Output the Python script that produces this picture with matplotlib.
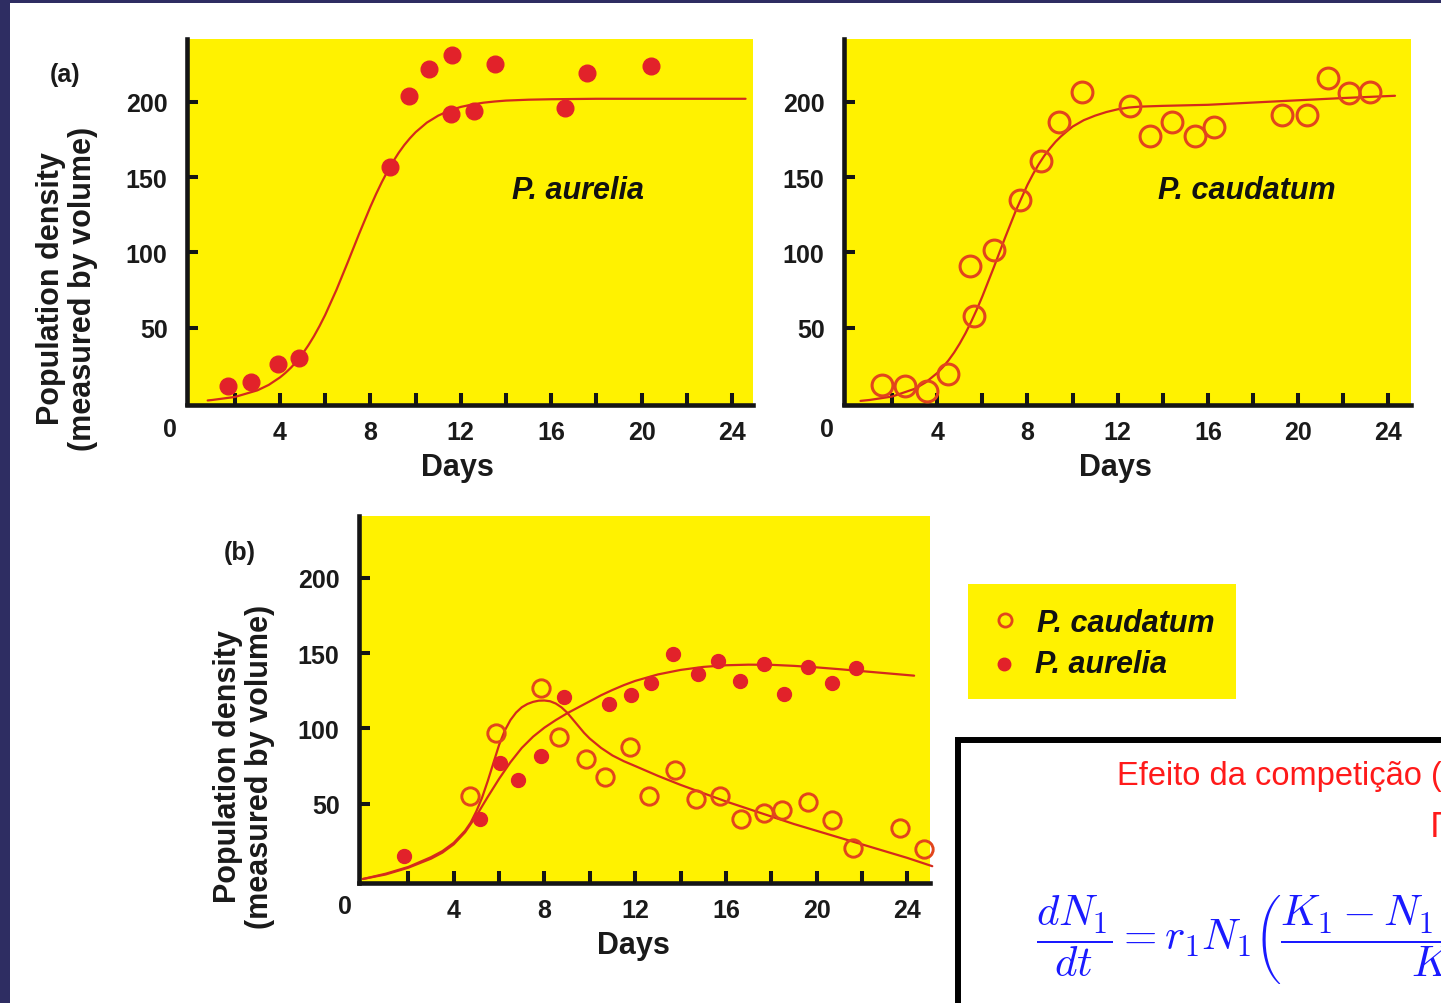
import matplotlib
matplotlib.use("Agg")
import matplotlib.pyplot as plt
from matplotlib.patches import Rectangle

W, H, DPI = 1441, 1004, 100

# ---------------- data ----------------
# (a) P. aurelia grown alone
a_aur_days = [1.7, 2.7, 3.9, 4.85, 8.85, 9.7, 10.6, 11.6, 11.55, 12.6, 13.5, 16.6, 17.6, 20.4]
a_aur_vals = [11, 14, 26, 30, 157, 204, 222, 231, 192, 194, 225, 196, 219, 224]
a_aur_fit_days = [0.8, 1, 2, 3, 3.5, 4, 4.25, 4.5, 4.75, 5, 5.25, 5.5, 5.75, 6, 6.5, 7, 7.5, 8, 8.25,
                  8.5, 8.75, 9, 9.25, 9.5, 9.75, 10, 10.5, 11, 11.5, 12, 12.5, 13, 13.5, 14, 15, 16,
                  18, 24.6]
a_aur_fit_vals = [1.7, 2, 4, 8.4, 12, 17, 20.1, 23.7, 27.9, 32.7, 38.2, 44.3, 51.1, 58.5, 75.2, 93.5,
                  112.3, 130.3, 138.7, 146.5, 153.7, 160.2, 166.1, 171.3, 175.8, 179.8, 186.2,
                  190.8, 194.2, 196.6, 198.2, 199.4, 200.2, 200.8, 201.4, 201.7, 202, 202]

# (a) P. caudatum grown alone
a_cau_days = [1.57, 2.57, 3.55, 4.5, 5.47, 5.63, 6.53, 7.65, 8.6, 9.41, 10.43, 12.56, 13.42, 14.39,
              15.45, 16.27, 19.3, 20.41, 21.31, 22.26, 23.19]
a_cau_vals = [12, 11, 8, 19.5, 91, 58, 101.5, 134.5, 161, 186.5, 206.5, 197, 177, 186.5,
              177, 183, 191, 191, 216, 206, 206.5]
a_cau_fit_days = [0.6, 1, 2, 3, 3.5, 4, 4.25, 4.5, 4.75, 5, 5.25, 5.5, 5.75, 6, 6.5, 7, 7.5, 8, 8.25,
                  8.5, 8.75, 9, 9.25, 9.5, 9.75, 10, 10.5, 11, 11.5, 12, 12.5, 13, 14, 16, 18, 20,
                  22, 24.3]
a_cau_fit_vals = [1.4, 2, 4.3, 9.4, 13.8, 19.9, 23.8, 28.3, 33.5, 39.5, 46.2, 53.7, 61.9, 70.7, 89.7,
                  109.4, 128.2, 144.8, 152, 158.5, 164.2, 169.1, 173.5, 177.2, 180.4, 183.5, 187.8,
                  190.8, 193.2, 195, 196.2, 196.8, 197.3, 198, 199.5, 201, 202.5, 204]

# (b) grown together
b_cau_days = [4.72, 5.87, 7.86, 8.66, 9.82, 10.67, 11.78, 12.62, 13.74, 14.68, 15.73, 16.67, 17.68,
              18.48, 19.61, 20.7, 21.62, 23.68, 24.74]
b_cau_vals = [55, 97, 127, 94.5, 79.5, 68, 87.7, 55, 72.4, 53, 55, 39.7, 43.5, 45.7, 51, 39, 20.3,
              33.6, 19.8]
b_cau_fit_days = [0, 1, 2, 3, 3.5, 4, 4.5, 4.75, 5, 5.25, 5.5, 5.75, 6, 6.25, 6.5, 6.75, 7, 7.25, 7.5,
                  7.75, 8, 8.25, 8.5, 8.75, 9, 9.25, 9.5, 9.75, 10, 10.5, 11, 11.5, 12, 13, 14, 15,
                  16, 17, 18, 19, 20, 21, 22, 23, 24, 25.1]
b_cau_fit_vals = [0, 3.5, 8, 14.5, 18.5, 24, 32, 37.5, 45, 54, 65, 77, 89, 98.5, 105.5, 110.5, 114,
                  116.2, 117.6, 118.4, 118.5, 118, 116.5, 114, 110.5, 106, 101.5, 97, 93.2, 87, 82,
                  78.2, 75, 68.5, 62.5, 57, 51.5, 46.5, 41.5, 36.5, 32, 27.5, 23, 18.5, 14, 8.5]

b_aur_days = [1.8, 5.17, 6.05, 6.84, 7.87, 8.87, 10.86, 11.83, 12.68, 13.68, 14.76, 15.67, 16.62,
              17.66, 18.57, 19.6, 20.68, 21.74]
b_aur_vals = [15, 39.7, 77, 66, 81.4, 120.7, 116, 122, 129.8, 149.5, 136, 145, 131.6, 142.6, 122.6,
              140.7, 130.4, 139.8]
b_aur_fit_days = [0, 1, 2, 3, 3.5, 4, 4.5, 5, 5.5, 6, 6.5, 7, 7.5, 8, 8.5, 9, 9.5, 10, 10.5, 11,
                  11.5, 12, 13, 14, 15, 16, 17, 18, 19, 20, 21, 22, 23, 24.3]
b_aur_fit_vals = [0, 3, 7.5, 13.5, 17.5, 23, 31, 42, 54.5, 66.5, 77.5, 87, 94.5, 100.5, 105.5, 110,
                  114, 118, 122, 125.5, 128.7, 131.5, 135.8, 138.8, 140.8, 141.9, 142.3, 142.2,
                  141.5, 140.5, 139.3, 138, 136.7, 135]

x_ticks = [2, 4, 6, 8, 10, 12, 14, 16, 18, 20, 22, 24]
x_tick_labels = ["", "4", "", "8", "", "12", "", "16", "", "20", "", "24"]
y_ticks = [50, 100, 150, 200]
y_tick_labels = ["50", "100", "150", "200"]

# ---------------- style ----------------
YELLOW = "#fff200"
DOT = "#e2222a"
RING = "#e2451c"
LINE = "#d42a1c"
NAVY = "#2e2d62"

plt.rcParams["font.family"] = ["Liberation Sans", "DejaVu Sans"]
plt.rcParams["font.weight"] = "bold"
plt.rcParams["mathtext.fontset"] = "cm"

fig = plt.figure(figsize=(W / DPI, H / DPI), dpi=DPI, facecolor="white")


def fx(px):
    return px / W


def fy(py):
    return 1 - py / H


def make_axes(left, right, top, bottom, xlim, ylim):
    ax = fig.add_axes([fx(left), fy(bottom), (right - left) / W, (bottom - top) / H])
    ax.set_facecolor(YELLOW)
    ax.set_xlim(*xlim)
    ax.set_ylim(*ylim)
    for s in ("top", "right"):
        ax.spines[s].set_visible(False)
    for s in ("left", "bottom"):
        ax.spines[s].set_linewidth(3.3)
        ax.spines[s].set_color("#151515")
        ax.spines[s].set_capstyle("projecting")
    ax.set_xticks(x_ticks)
    ax.set_xticklabels(x_tick_labels)
    ax.set_yticks(y_ticks)
    ax.set_yticklabels(y_tick_labels)
    ax.tick_params(axis="x", direction="in", length=8.5, width=2.9, color="#151515",
                   pad=11, labelsize=18)
    ax.tick_params(axis="y", direction="in", length=8, width=2.9, color="#151515",
                   pad=14, labelsize=18)
    for lab in ax.get_xticklabels() + ax.get_yticklabels():
        lab.set_fontweight("bold")
        lab.set_color("#1a1a1a")
    return ax


def draw_fit(ax, fd, fv):
    ax.plot(fd, fv, color=LINE, lw=1.6, zorder=3, clip_on=False,
            solid_capstyle="round", solid_joinstyle="round")


# panel (a) left
ax1 = make_axes(187, 753, 40, 405.5, (-0.115, 24.93), (-1.0, 241.7))
draw_fit(ax1, a_aur_fit_days, a_aur_fit_vals)
ax1.plot(a_aur_days, a_aur_vals, "o", ms=12, color=DOT, zorder=4, clip_on=False)
ax1.text(0.69, 0.588, "P. aurelia", transform=ax1.transAxes, ha="center", va="center",
         fontsize=22, fontstyle="italic", fontweight="bold", color="#111111")

# panel (a) right
ax2 = make_axes(844, 1411, 40, 405.5, (-0.133, 25.01), (-1.0, 241.7))
draw_fit(ax2, a_cau_fit_days, a_cau_fit_vals)
ax2.plot(a_cau_days, a_cau_vals, "o", ms=15, mfc="none", mec=RING, mew=2.2, zorder=4, clip_on=False)
ax2.text(0.710, 0.588, "P. caudatum", transform=ax2.transAxes, ha="center", va="center",
         fontsize=22, fontstyle="italic", fontweight="bold", color="#111111")

# panel (b)
ax3 = make_axes(359, 930, 517, 884, (-0.176, 25.0), (-2.66, 241.0))
draw_fit(ax3, b_cau_fit_days, b_cau_fit_vals)
draw_fit(ax3, b_aur_fit_days, b_aur_fit_vals)
ax3.plot(b_cau_days, b_cau_vals, "o", ms=12.5, mfc="none", mec=RING, mew=2.1, zorder=4, clip_on=False)
ax3.plot(b_aur_days, b_aur_vals, "o", ms=10, color=DOT, zorder=4, clip_on=False)

# corner zero labels, axis titles
txt = dict(fontweight="bold", color="#1a1a1a", ha="center", va="center")
for (x, y) in [(170, 430), (827, 430), (345, 907)]:
    fig.text(fx(x), fy(y), "0", fontsize=18, **txt)
for (x, y) in [(457, 468), (1115, 468), (633, 946)]:
    fig.text(fx(x), fy(y), "Days", fontsize=22, **txt)
for (x, y) in [(67, 289), (244, 767)]:
    fig.text(fx(x), fy(y), "Population density\n(measured by volume)", fontsize=22,
             rotation=90, linespacing=1.05, **txt)
fig.text(fx(65), fy(75), "(a)", fontsize=18, **txt)
fig.text(fx(240), fy(553), "(b)", fontsize=18, **txt)

# overlay axes in pixel coordinates for legend and formula box
ov = fig.add_axes([0, 0, 1, 1], facecolor="none")
ov.set_xlim(0, W)
ov.set_ylim(H, 0)
ov.axis("off")

# legend box
ov.add_patch(Rectangle((968, 585), 1236 - 968, 700 - 585, facecolor=YELLOW, edgecolor="none", zorder=1))
ov.plot([1005], [621], "o", ms=9.5, mfc="none", mec=RING, mew=2, zorder=3)
ov.plot([1004], [665], "o", ms=9, color=DOT, zorder=3)
ov.text(1037, 624, "P. caudatum", fontsize=22, fontstyle="italic", fontweight="bold",
        color="#111111", ha="left", va="center", zorder=3)
ov.text(1035, 665, "P. aurelia", fontsize=22, fontstyle="italic", fontweight="bold",
        color="#111111", ha="left", va="center", zorder=3)

# formula box (cut off by the right / bottom edge, as in the reference)
ov.add_patch(Rectangle((958, 741), 700, 400, facecolor="white", edgecolor="black",
                       linewidth=4.3, clip_on=False, zorder=1))
ov.text(1117, 777, "Efeito da competição (", fontsize=23.5, fontweight="normal",
        color="#ff1a1a", ha="left", va="center", family=["Liberation Sans", "DejaVu Sans"],
        clip_on=False, zorder=3)
ov.text(1430, 828, "Γ", fontsize=23.5, fontweight="normal", color="#ff1a1a", ha="left",
        va="center", family=["DejaVu Sans"], clip_on=False, zorder=3)
ov.text(1036, 940,
        r"$\dfrac{dN_1}{dt} = r_1 N_1 \left( \dfrac{K_1 - N_1 - \alpha_{12} N_2}{K_1} \right)$",
        fontsize=31, color="#1a1aff", ha="left", va="center", clip_on=False, zorder=3)

# navy frame edges
fig.patches.append(Rectangle((0, fy(4)), 1, 4 / H, transform=fig.transFigure,
                             facecolor=NAVY, edgecolor="none", zorder=10))
fig.patches.append(Rectangle((0, 0), 10 / W, 1, transform=fig.transFigure,
                             facecolor=NAVY, edgecolor="none", zorder=10))

fig.savefig("out.png", dpi=DPI, facecolor="white")
